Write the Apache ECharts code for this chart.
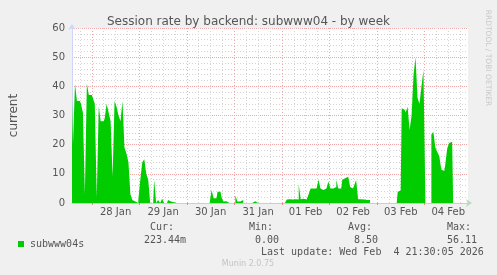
<!DOCTYPE html>
<html>
<head>
<meta charset="utf-8">
<script src="https://cdn.jsdelivr.net/npm/echarts@6/dist/echarts.min.js"></script>
<style>
html,body{margin:0;padding:0;background:#f0f0f0;}
#chart{width:497px;height:275px;}
</style>
</head>
<body>
<div id="chart"></div>
<script>
// Hourly samples from 27 Jan 14:00 to 04 Feb 22:00
const titleText = 'Session rate by backend: subwww04 - by week';
const seriesName = 'subwww04s';
const yAxisName = 'current';
const dayLabels = ['27 Jan','28 Jan','29 Jan','30 Jan','31 Jan','01 Feb','02 Feb','03 Feb','04 Feb'];
const startHour = 14;
const yTicks = [0, 10, 20, 30, 40, 50, 60];
const sessionRate = [
  35,20,41,35,35,34,31,3,41,37,
  37,36,34,2,33,28,28,29,34,31,
  28,9,35,33,30,28,35,19,17,14,
  3,1,0.5,0,1,8,14,15,10,8,
  0,0,8,0,1,0,1.5,0,0,1,
  0.5,0.3,0,0,0,0,0,0,0,0,
  0,0.6,0,0,0,0,0,0,0,0,
  0,4.5,1.6,1.6,3.9,3.9,2,0.5,0.6,0,
  0,0,0,2.7,0.5,0.5,1,0,0,0,
  0,0,0.6,0,0,0,0,0,0,0,
  0,0,0,0,0,0,0,0,0,1.2,
  1.3,1.2,1.5,1.3,1.2,6.5,1.3,1.5,1.2,1.3,
  3,5,5,5,5.5,8,5,4.5,5,5.5,
  7.4,5,5,5.5,7.9,5,5,8,8.5,9,
  9,5.5,5,6,7.9,1.3,1.3,1.2,1,1,
  1,0,0,0,0,0,0,0,0,0,
  0.6,0,0,0,0,3.9,4.3,32.5,32,31,
  33,25,30,44,50,36,34,40,45.5,0,
  0,0,23.5,24.4,19,17.5,16,11.5,11,13,
  18.7,20.6,21,0,0,0,0,0,0,0,
  0
];
const statLabels = ['Cur:', 'Min:', 'Avg:', 'Max:'];
const statValues = ['223.44m', '0.00', '8.50', '56.11'];
const lastUpdate = 'Last update: Wed Feb  4 21:30:05 2026';
const footer = 'Munin 2.0.75';
const sideText = 'RRDTOOL / TOBI OETIKER';

const categories = sessionRate.map((_, i) => {
  const t = i + startHour;
  const hh = t % 24;
  return dayLabels[Math.floor(t / 24)] + ' ' + (hh < 10 ? '0' : '') + hh + ':00';
});
const isMidnight = i => (i + startHour) % 24 === 0;
const isNoon = i => (i + startHour) % 24 === 12;
const isSixHour = i => (i + startHour) % 6 === 0 && !isMidnight(i);

const mono = '"DejaVu Sans Mono", monospace';
const sans = '"DejaVu Sans", sans-serif';
const txt = '#555555';

const statX = [[150, 144], [249, 255], [348, 354], [447, 447]];
const graphics = [];
statLabels.forEach((l, k) => {
  graphics.push({type: 'text', x: statX[k][0], y: 227.5, style: {text: l, font: '10px ' + mono, fill: txt, verticalAlign: 'middle'}});
  graphics.push({type: 'text', x: statX[k][1], y: 240, style: {text: statValues[k], font: '10px ' + mono, fill: txt, verticalAlign: 'middle'}});
});
graphics.push({type: 'text', x: 261, y: 252, style: {text: lastUpdate, font: '10px ' + mono, fill: txt, verticalAlign: 'middle'}});
graphics.push({type: 'text', x: 248, y: 263.5, style: {text: footer, font: '8px ' + sans, fill: '#c4c4c4', align: 'center', verticalAlign: 'middle'}});
graphics.push({type: 'text', x: 488, y: 58, rotation: -Math.PI / 2, style: {text: sideText, font: '7.5px ' + sans, fill: '#c8c8c8', align: 'center', verticalAlign: 'middle'}});

const chart = echarts.init(document.getElementById('chart'), null, {renderer: 'canvas'});
chart.setOption({
  backgroundColor: '#f0f0f0',
  animation: false,
  title: {
    text: titleText, left: 'center', top: 11,
    textStyle: {fontFamily: sans, fontSize: 12, fontWeight: 'normal', color: txt}
  },
  legend: {
    left: 13, top: 234, itemWidth: 6, itemHeight: 6, itemGap: 10,
    icon: 'rect',
    textStyle: {fontFamily: mono, fontSize: 10, color: txt, padding: [0, 0, 0, 1]},
    data: [seriesName]
  },
  grid: {
    left: 67, right: 29, top: 28, bottom: 72,
    show: true, backgroundColor: '#ffffff', borderWidth: 0
  },
  xAxis: [{
    type: 'category', data: categories, boundaryGap: false,
    axisLine: {show: true, lineStyle: {color: '#b8dcc0', width: 1}, symbol: ['none', 'arrow'], symbolSize: [6, 6], symbolOffset: [0, 4]},
    axisTick: {show: true, interval: (i) => isMidnight(i), length: 2, lineStyle: {color: '#e08a8a'}},
    axisLabel: {
      interval: (i) => isNoon(i), margin: 4,
      fontFamily: sans, fontSize: 10, color: txt,
      formatter: v => v.split(' ').slice(0, 2).join(' ')
    },
    splitLine: {show: true, interval: (i) => isMidnight(i), lineStyle: {color: '#eea8a8', type: [1, 2]}}
  }, {
    type: 'category', data: categories, boundaryGap: false, position: 'bottom',
    axisLine: {show: false}, axisTick: {show: false}, axisLabel: {show: false},
    splitLine: {show: true, interval: (i) => isSixHour(i), lineStyle: {color: '#d4d4d4', type: [1, 2]}}
  }],
  yAxis: {
    type: 'value', min: yTicks[0], max: yTicks[yTicks.length - 1], interval: 10,
    name: yAxisName, nameLocation: 'middle', nameGap: 52, nameRotate: 90,
    nameTextStyle: {fontFamily: sans, fontSize: 12, color: txt},
    axisLine: {show: true, lineStyle: {color: '#cfd6f8'}, symbol: ['none', 'arrow'], symbolSize: [6, 6], symbolOffset: [0, 4]},
    axisTick: {show: false},
    axisLabel: {fontFamily: sans, fontSize: 10, color: txt, margin: 7},
    splitLine: {show: true, lineStyle: {color: '#eea8a8', type: [1, 1]}},
    minorTick: {show: false, splitNumber: 5},
    minorSplitLine: {show: true, lineStyle: {color: '#d4d4d4', type: [1, 2]}}
  },
  series: [{
    name: seriesName, type: 'line', step: 'middle', xAxisIndex: 0,
    data: sessionRate, showSymbol: false, symbol: 'none',
    itemStyle: {color: '#00cc00'},
    lineStyle: {width: 0, opacity: 0},
    areaStyle: {color: '#00cc00', opacity: 1}
  }],
  graphic: graphics
});
</script>
</body>
</html>
